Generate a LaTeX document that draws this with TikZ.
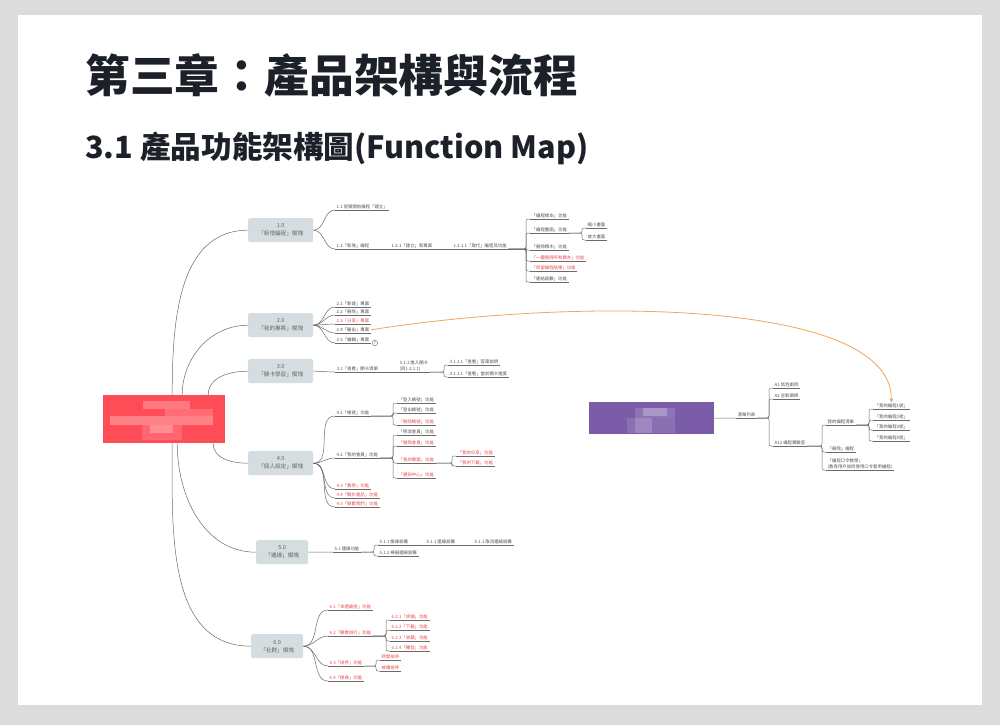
\documentclass[tikz,border=0pt]{standalone}
\usepackage{fontspec}
\setmainfont{Noto Sans CJK TC}
\usetikzlibrary{calc,arrows.meta}
\definecolor{pagegrey}{HTML}{DCDCDC}
\definecolor{titlec}{HTML}{1C2028}
\definecolor{linec}{HTML}{6A6A6A}
\definecolor{txtc}{HTML}{505050}
\definecolor{redt}{HTML}{E8474C}
\definecolor{boxc}{HTML}{D5DDE0}
\definecolor{boxt}{HTML}{666666}
\definecolor{rootred}{HTML}{FF4D57}
\definecolor{purp}{HTML}{7B5CA8}
\definecolor{orangec}{HTML}{F2A65A}
\tikzset{
 conn/.style={draw=linec, line width=0.5pt, rounded corners=2pt},
 leaf/.style={anchor=south west, inner xsep=1.5pt, inner ysep=0.9pt, text=txtc,
   font=\fontsize{4.4}{5.4}\selectfont, align=left,
   append after command={(\tikzlastnode.south west) edge[draw=linec, line width=0.5pt] (\tikzlastnode.south east)}},
 rleaf/.style={leaf, text=redt},
 modbox/.style={fill=boxc, rounded corners=1.5pt, text=boxt, font=\fontsize{5.6}{8}\selectfont,
   align=center, inner sep=0pt, minimum height=24pt, anchor=north west},
}
\newcommand\mmbr[2]{\draw[conn] (#1.south east) -| ([xshift=-4pt]#2.south west) -- (#2.south west);}
\newcommand\mmcv[2]{\draw[conn] (#1.east) to[out=0,in=180] (#2.south west);}
\newcommand\mmln[2]{\draw[conn] (#1.south east) -- (#2.south west);}
\begin{document}
\begin{tikzpicture}[x=1pt,y=-1pt]
\fill[pagegrey] (0,0) rectangle (1000,725);
\fill[white] (18,15) rectangle (982,705);
\useasboundingbox (0,0) rectangle (1000,725);

% titles
\node[anchor=base west, inner sep=0, font=\fontsize{44.8}{50}\selectfont\bfseries, text=titlec] (title) at (85,92) {第三章：產品架構與流程};
\node[anchor=base west, inner sep=0, font=\fontsize{30.6}{35}\selectfont\bfseries, text=titlec] (subtitle) at (85,158) {3.1 產品功能架構圖(Function Map)};

% root
\node[fill=rootred, anchor=north west, minimum width=122pt, minimum height=48pt, inner sep=0] (root) at (103,395) {};
\fill[white,opacity=.25] (143,401) rectangle (190,409);
\fill[white,opacity=.18] (165,409) rectangle (213,416);
\fill[white,opacity=.3] (110,416) rectangle (213,425);
\fill[white,opacity=.15] (142,425) rectangle (182,440);
\fill[white,opacity=.25] (150,425) rectangle (173,433);

% module boxes
\node[modbox, minimum width=65pt] (b1) at (248,218) {1.0\\「新增編程」模塊};
\node[modbox, minimum width=65pt] (b2) at (248,313) {2.0\\「我的專案」模塊};
\node[modbox, minimum width=65pt] (b3) at (248,359) {3.0\\「關卡學習」模塊};
\node[modbox, minimum width=65pt] (b4) at (248,451) {4.0\\「個人設定」模塊};
\node[modbox, minimum width=52pt] (b5) at (256,540) {5.0\\「連線」模塊};
\node[modbox, minimum width=52pt] (b6) at (251,634) {6.0\\「社群」模塊};

\draw[conn] ([xshift=8pt]root.north) to[out=90,in=180] (b1.west);
\draw[conn] ([xshift=18pt]root.north) to[out=90,in=180] (b2.west);
\draw[conn] ([xshift=44pt]root.north) to[out=90,in=180] (b3.west);
\draw[conn] ([xshift=49pt]root.south) to[out=-90,in=180] (b4.west);
\draw[conn] ([xshift=13pt]root.south) to[out=-90,in=180] (b5.west);
\draw[conn] ([xshift=8pt]root.south) to[out=-90,in=180] (b6.west);

% block 1
\node[leaf] (n11) at (335,210) {1.1 從頭開始編程「建立」};
\node[leaf] (n12) at (335,249) {1.2「新增」編程};
\node[leaf] (n121) at (390,249) {1.2.1「建立」新專案};
\node[leaf] (n1211) at (452,249) {1.2.1.1「取代」編程及功能};
\node[leaf] (c1) at (530,219) {「編程樣本」功能};
\node[leaf] (c2) at (530,233) {「編程畫面」功能};
\node[leaf] (c3) at (530,250) {「刪除積木」功能};
\node[rleaf] (c4) at (530,261) {「一鍵刪除所有積木」功能};
\node[rleaf] (c5) at (530,271) {「保留編程結果」功能};
\node[leaf] (c6) at (530,282) {「連結函數」功能};
\node[leaf] (c21) at (586,228) {縮小畫面};
\node[leaf] (c22) at (586,240) {放大畫面};
\mmcv{b1}{n11} \mmcv{b1}{n12}
\mmln{n12}{n121} \mmln{n121}{n1211}
\mmbr{n1211}{c1} \mmbr{n1211}{c2} \mmbr{n1211}{c3} \mmbr{n1211}{c4} \mmbr{n1211}{c5} \mmbr{n1211}{c6}
\mmbr{c2}{c21} \mmbr{c2}{c22}

% block 2
\node[leaf] (n21) at (335,307) {2.1「新建」專案};
\node[leaf] (n22) at (335,315) {2.2「刪除」專案};
\node[rleaf] (n23) at (335,324) {2.3「分享」專案};
\node[leaf] (n24) at (335,333) {2.4「輸出」專案};
\node[leaf] (n25) at (335,343) {2.5「編輯」專案};
\node[circle, draw=linec, line width=0.4pt, inner sep=0, minimum size=5.5pt, text=txtc, font=\fontsize{3.6}{4}\selectfont, anchor=west] (ic) at ([xshift=1pt]n25.south east) {7};
\mmcv{b2}{n21} \mmcv{b2}{n22} \mmcv{b2}{n23} \mmcv{b2}{n24} \mmcv{b2}{n25}

% block 3
\node[leaf] (n31) at (335,372) {3.1「查看」關卡清單};
\node[leaf] (n311) at (398,372) {3.1.1 進入關卡\\(同1.2.1.1)};
\node[leaf] (n3111) at (448,365) {3.1.1.1「查看」答案說明};
\node[leaf] (n3112) at (448,377) {3.1.1.1「查看」當前關卡進度};
\mmcv{b3}{n31} \mmln{n31}{n311}
\mmbr{n311}{n3111} \mmbr{n311}{n3112}

% block 4
\node[leaf] (n41) at (335,416) {4.1「帳號」功能};
\node[leaf] (d1) at (397,403) {「登入帳號」功能};
\node[leaf] (d2) at (397,413) {「登出帳號」功能};
\node[rleaf] (d3) at (397,425) {「刪除帳號」功能};
\node[leaf] (n42) at (335,458) {4.2「我的會員」功能};
\node[leaf] (e1) at (397,435) {「修改會員」功能};
\node[rleaf] (e2) at (397,446) {「撤除會員」功能};
\node[rleaf] (e3) at (397,463) {「我的專案」功能};
\node[rleaf] (e4) at (397,478) {「通知中心」功能};
\node[rleaf] (e31) at (456,456) {「我的分享」功能};
\node[rleaf] (e32) at (456,466) {「我的下載」功能};
\node[rleaf] (n43) at (335,489) {4.3「教學」功能};
\node[rleaf] (n44) at (335,498) {4.4「關於產品」功能};
\node[rleaf] (n45) at (335,507) {4.5「聯繫我們」功能};
\mmcv{b4}{n41} \mmcv{b4}{n42} \mmcv{b4}{n43} \mmcv{b4}{n44} \mmcv{b4}{n45}
\mmbr{n41}{d1} \mmbr{n41}{d2} \mmbr{n41}{d3}
\mmbr{n42}{e1} \mmbr{n42}{e2} \mmbr{n42}{e3} \mmbr{n42}{e4}
\mmbr{e3}{e31} \mmbr{e3}{e32}

% block 5
\node[leaf] (n51) at (333,552) {5.1 連線功能};
\node[leaf] (f1) at (378,545) {5.1.1 搜尋設備};
\node[leaf] (f2) at (425,545) {5.1.1 連線設備};
\node[leaf] (f3) at (473,545) {5.1.1 取消連線設備};
\node[leaf] (f4) at (378,556) {5.1.2 掃描連線設備};
\mmcv{b5}{n51}
\mmbr{n51}{f1} \mmbr{n51}{f4}
\mmln{f1}{f2} \mmln{f2}{f3}

% block 6
\node[rleaf] (n61) at (328,610) {6.1「本週最佳」功能};
\node[rleaf] (n62) at (328,636) {6.2「觀看排行」功能};
\node[rleaf] (g1) at (390,620) {6.2.1「評論」功能};
\node[rleaf] (g2) at (390,630) {6.2.2「下載」功能};
\node[rleaf] (g3) at (390,641) {6.2.3「收藏」功能};
\node[rleaf] (g4) at (390,651) {6.2.4「轉發」功能};
\node[rleaf] (n63) at (328,666) {6.3「排序」功能};
\node[rleaf] (h1) at (380,660) {時間排序};
\node[rleaf] (h2) at (380,671) {按讚排序};
\node[rleaf] (n64) at (328,681) {6.4「搜尋」功能};
\mmcv{b6}{n61} \mmcv{b6}{n62} \mmcv{b6}{n63} \mmcv{b6}{n64}
\mmbr{n62}{g1} \mmbr{n62}{g2} \mmbr{n62}{g3} \mmbr{n62}{g4}
\mmbr{n63}{h1} \mmbr{n63}{h2}

% purple map
\node[fill=purp, anchor=north west, minimum width=125pt, minimum height=32pt, inner sep=0] (proot) at (589,402) {};
\fill[white,opacity=.12] (627,418) rectangle (675,433);
\fill[white,opacity=.15] (635,408) rectangle (675,418);
\fill[white,opacity=.25] (643,408) rectangle (667,416);
\fill[white,opacity=.18] (635,418) rectangle (652,433);
\node[leaf] (lst) at (736,418) {清單列表};
\node[leaf] (a1) at (773,388) {A1 氣泡劇院};
\node[leaf] (a2) at (773,399) {A2 全新頭條};
\node[leaf] (a12) at (773,446) {A12 編程實驗室};
\node[leaf] (p1) at (826,425) {我的編程清單};
\node[leaf] (p2) at (826,452) {「刪除」編程};
\node[leaf] (p3) at (826,470) {「編程口令教學」\\(教育用戶如何使用口令套用編程)};
\node[leaf] (mb1) at (873,409) {「我的編程1號」};
\node[leaf] (mb2) at (873,420) {「我的編程2號」};
\node[leaf] (mb3) at (873,430) {「我的編程3號」};
\node[leaf] (mbx) at (873,441) {「我的編程X號」};
\draw[conn] (proot.east) -- (lst.south west);
\mmbr{lst}{a1} \mmbr{lst}{a2} \mmbr{lst}{a12}
\mmbr{a12}{p1} \mmbr{a12}{p2} \mmbr{a12}{p3}
\mmbr{p1}{mb1} \mmbr{p1}{mb2} \mmbr{p1}{mb3} \mmbr{p1}{mbx}

% orange relation arrow
\draw[orangec, line width=0.8pt, -{Stealth[length=4.5pt,width=4pt]}] (n24.east) .. controls +(200,-32) and +(2,-105) .. (mb1.north);
\end{tikzpicture}
\end{document}
